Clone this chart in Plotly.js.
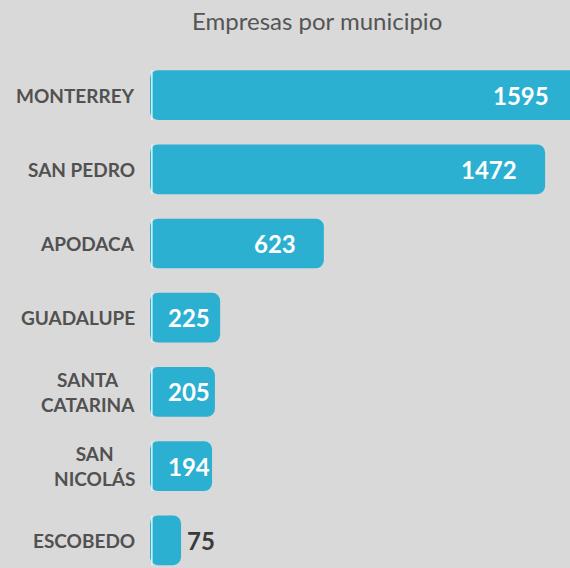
<!DOCTYPE html>
<html>
<head>
<meta charset="utf-8">
<script src="https://cdn.plot.ly/plotly-3.0.1.min.js"></script>
<style>html,body{margin:0;padding:0;background:#d9d9d9;overflow:hidden;width:570px;height:568px;}#chart{width:620px;height:568px;}</style>
</head>
<body>
<div id="chart"></div>
<script>
const categories = ["MONTERREY", "SAN PEDRO", "APODACA", "GUADALUPE", "SANTA<br>CATARINA", "SAN<br>NICOLÁS", "ESCOBEDO"];
const values = [1595, 1472, 623, 225, 205, 194, 75];
const valueLabels = ["1595", "1472", "623", "225", "205", "194", "75"];
const titleText = "Empresas por municipio";

const BAR = "#2bb0d1";
const BASE = -44;
const idx = categories.map((c, i) => i);

const bars = {
  type: "bar",
  orientation: "h",
  y: idx,
  x: values.map(v => v - BASE),
  base: BASE,
  width: 0.67,
  marker: {color: BAR, cornerradius: 8, line: {width: 0}},
  hoverinfo: "skip"
};
const stripe = {
  type: "bar",
  orientation: "h",
  y: idx,
  x: values.map(() => 6),
  base: BASE + 4,
  width: 0.67,
  marker: {color: "rgba(225,243,248,0.95)", line: {width: 0}},
  hoverinfo: "skip"
};

const annotations = [];
categories.forEach((c, i) => {
  annotations.push({
    xref: "paper", yref: "y", x: 0, y: i, xanchor: "right", yanchor: "middle",
    xshift: -13, text: "<b>" + c + "</b>", showarrow: false, align: "center",
    font: {family: "Lato", size: 19, color: "#515151"}
  });
  const v = values[i];
  let a;
  if (v > 400) {
    a = {x: v, xanchor: "right", xshift: -26, color: "#ffffff"};
  } else if (v > 100) {
    a = {x: 0, xanchor: "left", xshift: 5, color: "#ffffff"};
  } else {
    a = {x: v, xanchor: "left", xshift: 4, color: "#3a3a3a"};
  }
  annotations.push({
    xref: "x", yref: "y", x: a.x, y: i, xanchor: a.xanchor, yanchor: "middle",
    xshift: a.xshift, text: "<b>" + valueLabels[i] + "</b>", showarrow: false,
    font: {family: "Lato", size: 24, color: a.color}
  });
});
annotations.push({
  xref: "paper", yref: "paper", x: (317 - 150) / 470, y: 1 + 38 / 510, xanchor: "center", yanchor: "middle",
  text: titleText, showarrow: false,
  font: {family: "Lato", size: 24, color: "#555555"}
});

const layout = {
  width: 620, height: 568,
  paper_bgcolor: "#d9d9d9", plot_bgcolor: "#d9d9d9",
  margin: {l: 150, r: 0, t: 58, b: 0},
  barmode: "overlay",
  showlegend: false,
  xaxis: {range: [-44.1, -44.1 + 470 / 0.2606], visible: false, fixedrange: true},
  yaxis: {range: [6.373, -0.5], showticklabels: false, showgrid: false, zeroline: false, showline: false, ticks: ""},
  annotations: annotations
};

Plotly.newPlot("chart", [bars, stripe], layout, {displayModeBar: false, staticPlot: true});
</script>
</body>
</html>
